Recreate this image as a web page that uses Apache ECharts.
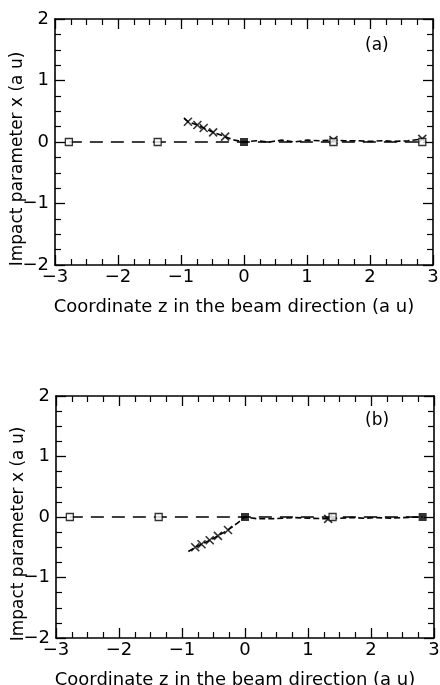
<!DOCTYPE html>
<html>
<head>
<meta charset="utf-8">
<script src="https://cdn.jsdelivr.net/npm/echarts@6/dist/echarts.min.js"></script>
<style>
	html, body { margin: 0; padding: 0; background: #fff; }
	#chart { width: 440px; height: 685px; }
</style>
</head>
<body>
<div id="chart"></div>
<script>
// projectile path along the beam axis
var projZ = [-2.78, -1.37, 0, 1.42, 2.83],
	projX = [0, 0, 0, 0, 0];
// (a) squares
var openA_z = [-2.78, -1.37, 1.42, 2.83],
	openA_x = [0, 0, 0, 0],
	filledA_z = [0],
	filledA_x = [0];
// (b) squares
var openB_z = [-2.78, -1.37, 1.39],
	openB_x = [0, 0, 0],
	filledB_z = [0, 2.82],
	filledB_x = [0, 0];

// electron path (a)
var elecA_z = [-0.95, -0.89, -0.74, -0.64, -0.49, -0.30, -0.15, 0.0, 0.2, 0.4, 0.6, 0.8, 1.0, 1.2, 1.42, 1.6, 1.8, 2.0, 2.2, 2.4, 2.6, 2.83],
	elecA_x = [0.385, 0.33, 0.276, 0.228, 0.157, 0.087, 0.03, 0.0, 0.02, 0.0, 0.03, 0.0, 0.03, 0.02, 0.03, 0.02, 0.02, 0.01, 0.02, 0.01, 0.02, 0.05];
var crossA_z = [-0.89, -0.74, -0.64, -0.49, -0.30, 1.42, 2.83],
	crossA_x = [0.33, 0.276, 0.228, 0.157, 0.087, 0.03, 0.05];

// electron path (b)
var elecB_z = [-0.90, -0.79, -0.69, -0.56, -0.43, -0.27, -0.12, 0.0, 0.2, 0.4, 0.6, 0.8, 1.0, 1.32, 1.5, 1.7, 1.9, 2.1, 2.3, 2.5, 2.82],
	elecB_x = [-0.57, -0.50, -0.45, -0.385, -0.313, -0.214, -0.10, 0.0, -0.03, -0.03, -0.02, -0.01, -0.02, -0.03, -0.02, -0.01, -0.02, -0.01, -0.02, -0.01, 0.0];
var crossB_z = [-0.79, -0.69, -0.56, -0.43, -0.27, 1.32],
	crossB_x = [-0.50, -0.45, -0.385, -0.313, -0.214, -0.03];

var xTitle = 'Coordinate z in the beam direction (a u)',
	yTitle = 'Impact parameter x (a u)';

function zip(a, b) {
	return a.map(function(v, i){ return [v, b[i]]; });
}
function minus(v) {
	return String(v).replace('-', '\u2212');
}

var FONT = 'DejaVu Sans';
var tick = { inside: true, length: 10, lineStyle: { color: '#000', width: 1.3 } };
var minor = { show: true, splitNumber: 4, length: 6, lineStyle: { color: '#000', width: 1.2 } };
var line = { show: true, onZero: false, lineStyle: { color: '#000', width: 1.6 } };

function xAx(grid, pos, labels) {
	return {
		type: 'value', gridIndex: grid, position: pos, min: -3, max: 3, interval: 1,
		axisLine: line, axisTick: tick, minorTick: minor, splitLine: { show: false },
		axisLabel: { show: labels, formatter: minus, fontFamily: FONT, fontSize: 18, color: '#000', margin: 3 },
		name: labels ? xTitle : '', nameLocation: 'middle', nameGap: 33, nameMoveOverlap: false,
		nameTextStyle: { fontFamily: FONT, fontSize: 18, color: '#000', padding: [0, 20, 0, 0] }
	};
}
function yAx(grid, pos, labels) {
	return {
		type: 'value', gridIndex: grid, position: pos, min: -2, max: 2, interval: 1,
		axisLine: line, axisTick: tick, minorTick: minor, splitLine: { show: false },
		axisLabel: { show: labels, formatter: minus, fontFamily: FONT, fontSize: 18, color: '#000', margin: 6 },
		name: labels ? yTitle : '', nameLocation: 'middle', nameGap: 29, nameMoveOverlap: false,
		nameTextStyle: { fontFamily: FONT, fontSize: 17, color: '#000', padding: [0, 34, 0, 0] }
	};
}

var cross = 'path://M0,0L10,10M0,10L10,0';
var seriesList = [];
function panel(g, openZ, openX, filledZ, filledX, eZ, eX, cZ, cX) {
	var xi = g * 2, yi = g * 2;
	seriesList.push({
		type: 'line', xAxisIndex: xi, yAxisIndex: yi, data: zip(projZ, projX), symbol: 'none',
		lineStyle: { color: '#000', width: 1.5, type: [13, 8] }, z: 2, silent: true
	});
	seriesList.push({
		type: 'line', xAxisIndex: xi, yAxisIndex: yi, data: zip(eZ, eX), symbol: 'none',
		lineStyle: { color: '#000', width: 1.6, type: [6, 3] }, z: 3, silent: true
	});
	seriesList.push({
		type: 'scatter', xAxisIndex: xi, yAxisIndex: yi, data: zip(cZ, cX), symbol: cross, symbolSize: 8,
		itemStyle: { color: '#000', borderColor: '#000', borderWidth: 1.6 }, z: 4
	});
	seriesList.push({
		type: 'scatter', xAxisIndex: xi, yAxisIndex: yi, data: zip(openZ, openX), symbol: 'rect', symbolSize: 7,
		itemStyle: { color: '#fff', borderColor: '#000', borderWidth: 1.3 }, z: 5
	});
	seriesList.push({
		type: 'scatter', xAxisIndex: xi, yAxisIndex: yi, data: zip(filledZ, filledX), symbol: 'rect', symbolSize: 8,
		itemStyle: { color: '#000' }, z: 5
	});
}
panel(0, openA_z, openA_x, filledA_z, filledA_x, elecA_z, elecA_x, crossA_z, crossA_x);
panel(1, openB_z, openB_x, filledB_z, filledB_x, elecB_z, elecB_x, crossB_z, crossB_x);

var chart = echarts.init(document.getElementById('chart'), null, { renderer: 'canvas' });
chart.setOption({
	animation: false,
	backgroundColor: '#fff',
	grid: [
		{ left: 55, top: 19, width: 378, height: 246, containLabel: false, outerBoundsMode: 'none' },
		{ left: 56, top: 396, width: 378, height: 242, containLabel: false, outerBoundsMode: 'none' }
	],
	xAxis: [xAx(0, 'bottom', true), xAx(0, 'top', false), xAx(1, 'bottom', true), xAx(1, 'top', false)],
	yAxis: [yAx(0, 'left', true), yAx(0, 'right', false), yAx(1, 'left', true), yAx(1, 'right', false)],
	graphic: [
		{ type: 'text', left: 365, top: 37, style: { text: '(a)', font: '17px DejaVu Sans', fill: '#000' } },
		{ type: 'text', left: 365, top: 412, style: { text: '(b)', font: '17px DejaVu Sans', fill: '#000' } }
	],
	series: seriesList
});
</script>
</body>
</html>
